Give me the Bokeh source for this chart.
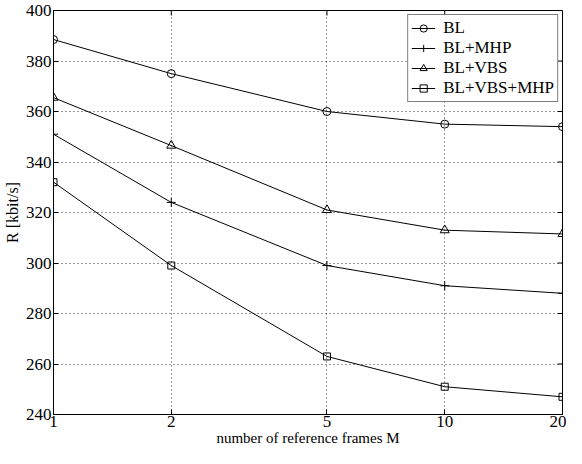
import math
from bokeh.plotting import figure
from bokeh.models import FixedTicker, Range1d, Legend, LegendItem
from bokeh.embed import file_html
from bokeh.resources import INLINE

frames = [1, 2, 5, 10, 20]
bl = [388.5, 375, 360, 355, 354]
bl_mhp = [351, 324, 299, 291, 288]
bl_vbs = [365.5, 346.5, 321, 313, 311.5]
bl_vbs_mhp = [332, 299, 263, 251, 247]

x_ticks = [1, 2, 5, 10, 20]
y_ticks = [240, 260, 280, 300, 320, 340, 360, 380, 400]

FONT = "Liberation Serif"

p = figure(width=566, height=448, output_backend="svg", toolbar_location=None,
           x_axis_type="log", x_range=Range1d(1, 20), y_range=Range1d(240, 400),
           min_border_left=49, min_border_top=10, min_border_right=4, min_border_bottom=30)
p.background_fill_color = "white"
p.border_fill_color = "white"
p.outline_line_color = "black"
p.outline_line_width = 1

series = [
    ("BL", bl, "circle", 8),
    ("BL+MHP", bl_mhp, "cross", 9),
    ("BL+VBS", bl_vbs, "triangle", 9),
    ("BL+VBS+MHP", bl_vbs_mhp, "square", 7),
]

items = []
for name, ys, marker, size in series:
    r1 = p.line(frames, ys, line_color="black", line_width=1)
    r2 = p.scatter(frames, ys, marker=marker, size=size, line_color="black",
                   fill_color=None, line_width=1)
    items.append(LegendItem(label=name, renderers=[r1, r2]))

# inward ticks on the top and right edges of the box
p.ray(x=x_ticks, y=[max(y_ticks)] * len(x_ticks), length=5, length_units="screen",
      angle=-math.pi / 2, line_color="black", line_width=1)
p.ray(x=[max(x_ticks)] * len(y_ticks), y=y_ticks, length=5, length_units="screen",
      angle=math.pi, line_color="black", line_width=1)

for ax in p.xaxis:
    ax.ticker = FixedTicker(ticks=x_ticks, minor_ticks=[])
    ax.major_label_overrides = {t: str(t) for t in x_ticks}
    ax.axis_label = "number of reference frames M"
    ax.axis_label_standoff = 0
    ax.major_label_standoff = 1
    ax.axis_label_text_font_size = "15px"
for ax in p.yaxis:
    ax.ticker = FixedTicker(ticks=y_ticks, minor_ticks=[])
    ax.axis_label = "R [kbit/s]"
    ax.axis_label_standoff = 2
    ax.major_label_standoff = 2
    ax.axis_label_text_font_size = "16px"

for ax in list(p.xaxis) + list(p.yaxis):
    ax.major_tick_in = 5
    ax.major_tick_out = 0
    ax.minor_tick_in = 0
    ax.minor_tick_out = 0
    ax.axis_line_color = "black"
    ax.major_tick_line_color = "black"
    ax.major_label_text_font = FONT
    ax.major_label_text_font_size = "17px"
    ax.major_label_text_color = "black"
    ax.axis_label_text_font = FONT
    ax.axis_label_text_font_style = "normal"
    ax.axis_label_text_color = "black"

p.xgrid.ticker = FixedTicker(ticks=x_ticks, minor_ticks=[])
p.ygrid.ticker = FixedTicker(ticks=y_ticks, minor_ticks=[])
for g in (p.xgrid[0], p.ygrid[0]):
    g.grid_line_color = "black"
    g.grid_line_dash = "1 3"
    g.grid_line_width = 1
    g.grid_line_alpha = 0.8

legend = Legend(items=items, location="top_right")
legend.label_text_font = FONT
legend.label_text_font_size = "17px"
legend.label_text_color = "black"
legend.border_line_color = "black"
legend.border_line_width = 1
legend.background_fill_alpha = 1
legend.spacing = 0
legend.padding = 3
legend.margin = 4
legend.glyph_width = 24
legend.glyph_height = 18
legend.label_height = 18
legend.label_standoff = 8
p.add_layout(legend)

open("out.html", "w").write(file_html(p, INLINE))
